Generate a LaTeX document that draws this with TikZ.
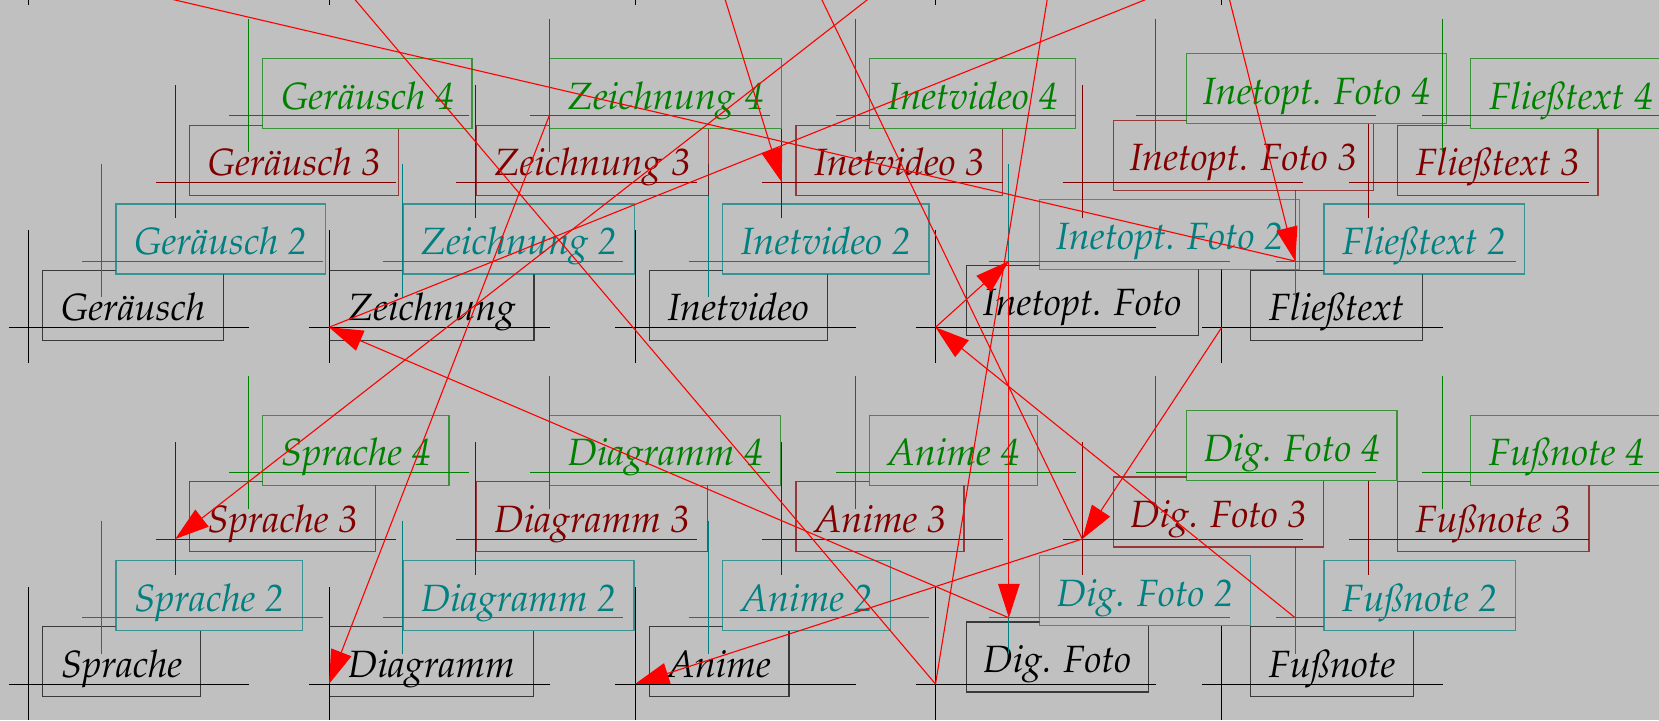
\documentclass[tikz,border=0pt]{standalone}
\usepackage[T1]{fontenc}
\renewcommand{\rmdefault}{ppl}
\usetikzlibrary{arrows.meta}
\definecolor{bg}{RGB}{192,192,192}
\definecolor{cblack}{RGB}{0,0,0}
\definecolor{cteal}{RGB}{0,128,128}
\definecolor{cred}{RGB}{128,0,0}
\definecolor{cgreen}{RGB}{0,128,0}
\definecolor{arrred}{RGB}{255,0,0}
% #1 name, #2 cx, #3 cy, #4 box x-offset, #5 box bottom offset, #6 width, #7 colour, #8 text
\newcommand{\mklayer}[8]{%
  \node[labbox, draw=#7, text=#7, minimum width=#6pt, anchor=south west] (#1) at ({#2+#4},{#3+#5}) {#8};
  \coordinate (#1x) at (#2,#3);
  \draw[xhair, draw=#7] ({#2-19.6},#3) -- ({#2+220.7},#3);
  \draw[xhair, draw=#7] (#2,{#3-97}) -- (#2,{#3+36});
}
\begin{document}
\begin{tikzpicture}[x=1pt,y=-1pt,
  labbox/.style={fill=bg, line width=1.2pt, draw opacity=0.7,
    font=\fontsize{38}{44}\selectfont\itshape, inner xsep=0pt, inner ysep=0pt,
    minimum height=70pt, text height=31pt, text depth=0pt},
  xhair/.style={line width=1pt},
  arr/.style={draw=arrred, line width=1.1pt, -{Triangle[length=34pt,width=21.5pt]}}]
\useasboundingbox (0,0) rectangle (1659,720);
\fill[bg] (0,0) rectangle (1659,720);
\clip (0,0) rectangle (1659,720);
% hidden row above the picture (only the ends of its vertical lines show)
\foreach \hx in {28.4,329,635,935.5,1221.8}{\draw[xhair, draw=cblack] (\hx,-128) -- (\hx,5);}
\coordinate (hft) at (1221.8,-31);
% ---------- black layer
\mklayer{g0}{28.4}{327.3}{13.6}{13.4}{180.7}{cblack}{Ger\"ausch}
\mklayer{z0}{329}{327.3}{0}{13.4}{204.3}{cblack}{Zeichnung}
\mklayer{iv0}{635}{327.3}{13.6}{13.4}{178.2}{cblack}{Inetvideo}
\mklayer{io0}{935.5}{327.3}{30.2}{8.6}{231.8}{cblack}{Inetopt. Foto}
\mklayer{ft0}{1221.8}{327.3}{28.1}{13.4}{172.1}{cblack}{Flie\ss{}text}
\mklayer{sp0}{28.4}{684}{13.6}{13.4}{158.2}{cblack}{Sprache}
\mklayer{di0}{329}{684}{0}{13.4}{203.5}{cblack}{Diagramm}
\mklayer{an0}{635}{684}{13.6}{13.4}{139.7}{cblack}{Anime}
\mklayer{df0}{935.5}{684}{30.2}{8.6}{181.8}{cblack}{Dig. Foto}
\mklayer{fn0}{1221.8}{684}{28.1}{13.4}{163.2}{cblack}{Fu\ss{}note}
% ---------- teal layer
\mklayer{g1}{101.8}{261.1}{13.6}{13.4}{209.2}{cteal}{Ger\"ausch 2}
\mklayer{z1}{402.4}{261.1}{0}{13.4}{231.8}{cteal}{Zeichnung 2}
\mklayer{iv1}{708.4}{261.1}{13.6}{13.4}{206.4}{cteal}{Inetvideo 2}
\mklayer{io1}{1008.9}{261.1}{30.2}{8.6}{260}{cteal}{Inetopt. Foto 2}
\mklayer{ft1}{1295.2}{261.1}{28.1}{13.4}{200.7}{cteal}{Flie\ss{}text 2}
\mklayer{sp1}{101.8}{617.8}{13.6}{13.4}{186.2}{cteal}{Sprache 2}
\mklayer{di1}{402.4}{617.8}{0}{13.4}{230.9}{cteal}{Diagramm 2}
\mklayer{an1}{708.4}{617.8}{13.6}{13.4}{168}{cteal}{Anime 2}
\mklayer{df1}{1008.9}{617.8}{30.2}{8.6}{210.4}{cteal}{Dig. Foto 2}
\mklayer{fn1}{1295.2}{617.8}{28.1}{13.4}{191.6}{cteal}{Fu\ss{}note 2}
% ---------- dark red layer
\mklayer{g2}{175.2}{182.3}{13.6}{13.4}{209.2}{cred}{Ger\"ausch 3}
\mklayer{z2}{475.8}{182.3}{0}{13.4}{231.8}{cred}{Zeichnung 3}
\mklayer{iv2}{781.8}{182.3}{13.6}{13.4}{206.4}{cred}{Inetvideo 3}
\mklayer{io2}{1082.3}{182.3}{30.2}{8.6}{260}{cred}{Inetopt. Foto 3}
\mklayer{ft2}{1368.6}{182.3}{28.1}{13.4}{200.7}{cred}{Flie\ss{}text 3}
\mklayer{sp2}{175.2}{539}{13.6}{13.4}{186.2}{cred}{Sprache 3}
\mklayer{di2}{475.8}{539}{0}{13.4}{230.9}{cred}{Diagramm 3}
\mklayer{an2}{781.8}{539}{13.6}{13.4}{168}{cred}{Anime 3}
\mklayer{df2}{1082.3}{539}{30.2}{8.6}{210.4}{cred}{Dig. Foto 3}
\mklayer{fn2}{1368.6}{539}{28.1}{13.4}{191.6}{cred}{Fu\ss{}note 3}
% ---------- green layer
\mklayer{g3}{248.6}{115.8}{13.6}{13.4}{209.2}{cgreen}{Ger\"ausch 4}
\mklayer{z3}{549.2}{115.8}{0}{13.4}{231.8}{cgreen}{Zeichnung 4}
\mklayer{iv3}{855.2}{115.8}{13.6}{13.4}{206.4}{cgreen}{Inetvideo 4}
\mklayer{io3}{1155.7}{115.8}{30.2}{8.6}{260}{cgreen}{Inetopt. Foto 4}
\mklayer{ft3}{1442}{115.8}{28.1}{13.4}{200.7}{cgreen}{Flie\ss{}text 4}
\mklayer{sp3}{248.6}{472.5}{13.6}{13.4}{186.2}{cgreen}{Sprache 4}
\mklayer{di3}{549.2}{472.5}{0}{13.4}{230.9}{cgreen}{Diagramm 4}
\mklayer{an3}{855.2}{472.5}{13.6}{13.4}{168}{cgreen}{Anime 4}
\mklayer{df3}{1155.7}{472.5}{30.2}{8.6}{210.4}{cgreen}{Dig. Foto 4}
\mklayer{fn3}{1442}{472.5}{28.1}{13.4}{191.6}{cgreen}{Fu\ss{}note 4}
% ---------- off-picture ends (far enough that no arrowhead shows)
\coordinate (p3) at (-468.5,-150);
\coordinate (p4) at (716,-30);
\coordinate (p5) at (228.1,-150);
\coordinate (p6) at (905.5,-30);
\coordinate (p7) at (749.5,-150);
\coordinate (p8) at (1071.6,-150);
\coordinate (p9) at (1518.3,-150);
% ---------- connectors
\draw[arr] (io1x) -- (df1x);
\draw[arr] (hft) -- (ft1x);
\draw[arr] (ft1x) -- (p3);
\draw[arr] (p4) -- (iv2x);
\draw[arr] (df0x) -- (p5);
\draw[arr] (p6) -- (sp2x);
\draw[arr] (df2x) -- (p7);
\draw[arr] (df0x) -- (p8);
\draw[arr] (z0x) -- (p9);
\draw[arr] (df1x) -- (z0x);
\draw[arr] (z3x) -- (di0x);
\draw[arr] (ft0x) -- (df2x);
\draw[arr] (df2x) -- (an0x);
\draw[arr] (fn1x) -- (io0x);
\draw[arr] (io0x) -- (io1x);
\end{tikzpicture}
\end{document}
